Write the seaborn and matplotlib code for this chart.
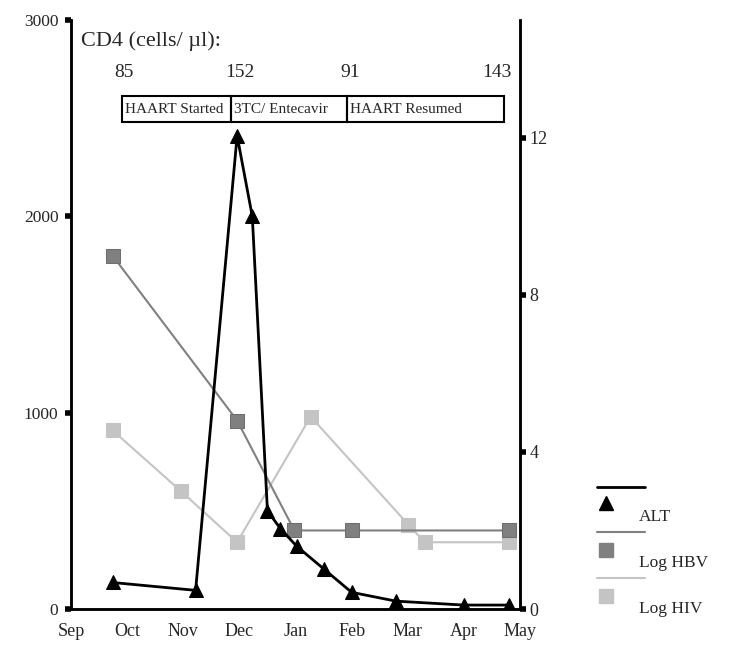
import matplotlib
matplotlib.use("Agg")
import matplotlib.pyplot as plt
import matplotlib.transforms as mtransforms
from matplotlib.lines import Line2D
from matplotlib.patches import Rectangle
import seaborn as sns
import pandas as pd

# ---------------- data ----------------
month_labels = ["Sep", "Oct", "Nov", "Dec", "Jan", "Feb", "Mar", "Apr", "May"]

alt_month = [0.74, 2.22, 2.96, 3.23, 3.50, 3.73, 4.02, 4.50, 5.00, 5.79, 7.00, 7.80]
alt_vals = [135, 95, 2410, 2000, 500, 410, 320, 205, 85, 40, 20, 20]

hbv_month = [0.74, 2.96, 3.98, 5.00, 7.80]
hbv_vals = [9.0, 4.8, 2.0, 2.0, 2.0]

hiv_month = [0.74, 1.96, 2.96, 4.27, 6.01, 6.30, 7.80]
hiv_vals = [4.55, 3.0, 1.7, 4.9, 2.15, 1.7, 1.7]

cd4_month = [0.94, 3.01, 4.97, 7.58]
cd4_labels = ["85", "152", "91", "143"]

treat_labels = ["HAART Started", "3TC/ Entecavir", "HAART Resumed"]
treat_bounds = [0.90, 2.85, 4.91, 7.71]

left_ticks = [0, 1000, 2000, 3000]
right_ticks = [0, 4, 8, 12]

# ---------------- style ----------------
sns.set_theme(style="white")
plt.rcParams["font.family"] = ["Liberation Serif", "DejaVu Serif"]

fig = plt.figure(figsize=(7.52, 6.57), dpi=100)
ax = fig.add_axes([71 / 752, 1 - 609 / 657, (520 - 71) / 752, (609 - 20) / 657])
ax2 = ax.twinx()

alt_df = pd.DataFrame({"m": alt_month, "v": alt_vals})
hbv_df = pd.DataFrame({"m": hbv_month, "v": hbv_vals})
hiv_df = pd.DataFrame({"m": hiv_month, "v": hiv_vals})

c_hbv = "#808080"
c_hiv = "#c4c4c4"

sns.lineplot(data=hiv_df, x="m", y="v", ax=ax2, color=c_hiv, linewidth=1.5,
             marker="s", markersize=10, markeredgecolor=c_hiv, markerfacecolor=c_hiv)
sns.lineplot(data=hbv_df, x="m", y="v", ax=ax2, color=c_hbv, linewidth=1.5,
             marker="s", markersize=10, markeredgecolor="#6e6e6e", markerfacecolor=c_hbv)
sns.lineplot(data=alt_df, x="m", y="v", ax=ax, color="black", linewidth=2,
             marker="^", markersize=10, markeredgecolor="black", markerfacecolor="black")

ax.set_zorder(ax2.get_zorder() + 1)
ax.patch.set_visible(False)

ax.set_xlim(0, 8)
ax.set_ylim(0, 3000)
ax2.set_ylim(0, 15)

ax.set_xticks(range(len(month_labels)))
ax.set_xticklabels(month_labels, fontsize=13)
ax.set_yticks(left_ticks)
ax.set_yticklabels([str(t) for t in left_ticks], fontsize=12.5)
ax2.set_yticks(right_ticks)
ax2.set_yticklabels([str(t) for t in right_ticks], fontsize=13)

ax.set_xlabel("")
ax.set_ylabel("")
ax2.set_xlabel("")
ax2.set_ylabel("")

for a in (ax, ax2):
    for s in a.spines.values():
        s.set_color("black")
        s.set_linewidth(1.8)
    a.spines["top"].set_visible(False)

ax.tick_params(axis="both", direction="out", length=4, width=4, color="black", pad=6)
ax.tick_params(axis="y", pad=5)
ax2.tick_params(axis="y", direction="out", length=4, width=4, color="black", pad=3)

# ---------------- annotations ----------------
trans = mtransforms.blended_transform_factory(ax.transData, ax.transAxes)
ax.text(0.022, 0.964, "CD4 (cells/ µl):", transform=ax.transAxes, fontsize=16,
        ha="left", va="center")
for m, lab in zip(cd4_month, cd4_labels):
    ax.text(m, 0.911, lab, transform=trans, fontsize=14, ha="center", va="center")

box_bottom, box_top = 0.826, 0.871
for i, lab in enumerate(treat_labels):
    x0, x1 = treat_bounds[i], treat_bounds[i + 1]
    ax.add_patch(Rectangle((x0, box_bottom), x1 - x0, box_top - box_bottom,
                           transform=trans, fill=False, edgecolor="black",
                           linewidth=1.5, clip_on=False))
    ax.text(x0 + 0.06, (box_bottom + box_top) / 2, lab, transform=trans,
            fontsize=11, ha="left", va="center")

# ---------------- legend (manual) ----------------
def px(x, y):
    return x / 752, 1 - y / 657

entries = [
    ("ALT", "black", 2, "^", "black", 487, 503, 517),
    ("Log HBV", c_hbv, 1.5, "s", c_hbv, 532, 550, 563),
    ("Log HIV", c_hiv, 1.5, "s", c_hiv, 578, 596, 609),
]
for lab, col, lw, mk, mcol, yl, ym, yt in entries:
    x0, y0 = px(597, yl)
    x1, _ = px(645, yl)
    fig.add_artist(Line2D([x0, x1], [y0, y0], color=col, linewidth=lw,
                          transform=fig.transFigure))
    mx, my = px(606, ym)
    fig.add_artist(Line2D([mx], [my], marker=mk, markersize=10, color=mcol,
                          markeredgecolor=mcol, linestyle="none",
                          transform=fig.transFigure))
    tx, ty = px(639, yt)
    fig.text(tx, ty, lab, fontsize=12.5, ha="left", va="center")

fig.savefig("out.png", dpi=100)
